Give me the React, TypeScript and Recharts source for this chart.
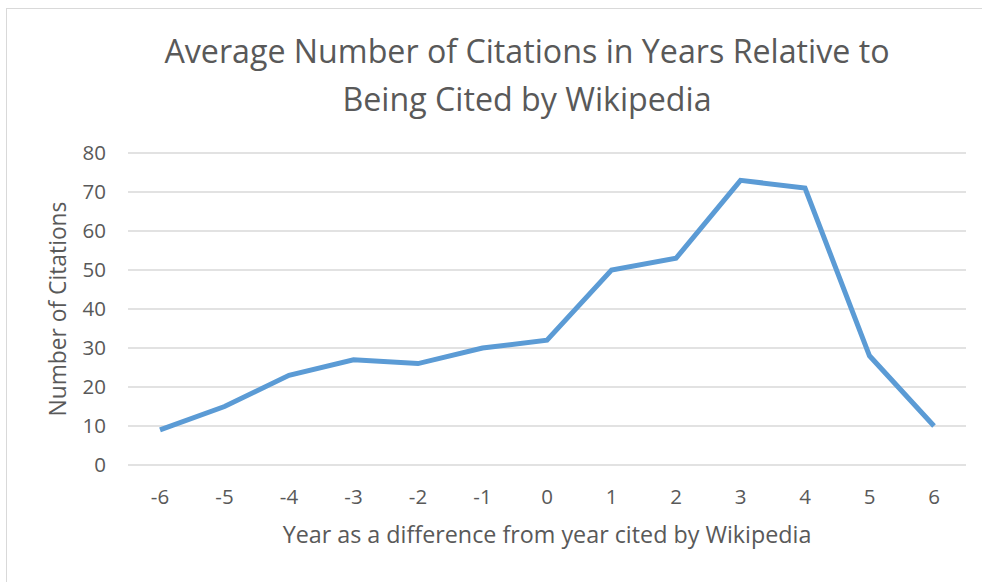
import { LineChart, Line, XAxis, YAxis, CartesianGrid } from 'recharts';

const years = ['-6', '-5', '-4', '-3', '-2', '-1', '0', '1', '2', '3', '4', '5', '6'];
const citations = [9, 15, 23, 27, 26, 30, 32, 50, 53, 73, 71, 28, 10];
const yTicks = [0, 10, 20, 30, 40, 50, 60, 70, 80];

const FONT = '"Open Sans", sans-serif';
const TEXT = '#595959';

export default function App() {
  const data = years.map((year, i) => ({ year, citations: citations[i] }));

  return (
    <div style={{ position: 'absolute', left: 0, top: 0, width: 982, height: 582, background: '#fff', overflow: 'hidden', fontFamily: FONT }}>
      <div style={{ position: 'absolute', left: 6, top: 8, width: 1000, height: 600, border: '1.5px solid #d9d9d9', boxSizing: 'border-box' }} />
      <div
        style={{
          position: 'absolute',
          left: 0,
          width: 1054,
          top: 27,
          textAlign: 'center',
          color: TEXT,
          fontSize: 32.2,
          lineHeight: '48px',
        }}
      >
        Average Number of Citations in Years Relative to
        <br />
        Being Cited by Wikipedia
      </div>
      <div style={{ position: 'absolute', left: 0, top: 0 }}>
        <LineChart width={982} height={582} data={data} margin={{ top: 153, right: 16, left: 68, bottom: 27 }}>
          <CartesianGrid vertical={false} stroke="#d9d9d9" strokeWidth={1.5} />
          <XAxis
            dataKey="year"
            axisLine={false}
            tickLine={false}
            tickSize={0}
            tickMargin={24}
            height={90}
            padding={{ left: 32, right: 32 }}
            tick={{ fill: TEXT, fontSize: 20.5, fontFamily: FONT }}
            label={{ value: 'Year as a difference from year cited by Wikipedia', position: 'insideBottom', offset: 12, fill: TEXT, fontSize: 23.3, fontFamily: FONT }}
          />
          <YAxis
            domain={[0, 80]}
            ticks={yTicks}
            axisLine={false}
            tickLine={false}
            tickSize={0}
            tickMargin={22}
            width={60}
            tick={{ fill: TEXT, fontSize: 20.5, fontFamily: FONT }}
            label={{ value: 'Number of Citations', angle: -90, position: 'insideLeft', offset: 0, dx: -10, fill: TEXT, fontSize: 22.8, fontFamily: FONT, style: { textAnchor: 'middle' } }}
          />
          <Line type="linear" dataKey="citations" stroke="#5b9bd5" strokeWidth={5} dot={false} activeDot={false} isAnimationActive={false} />
        </LineChart>
      </div>
    </div>
  );
}
